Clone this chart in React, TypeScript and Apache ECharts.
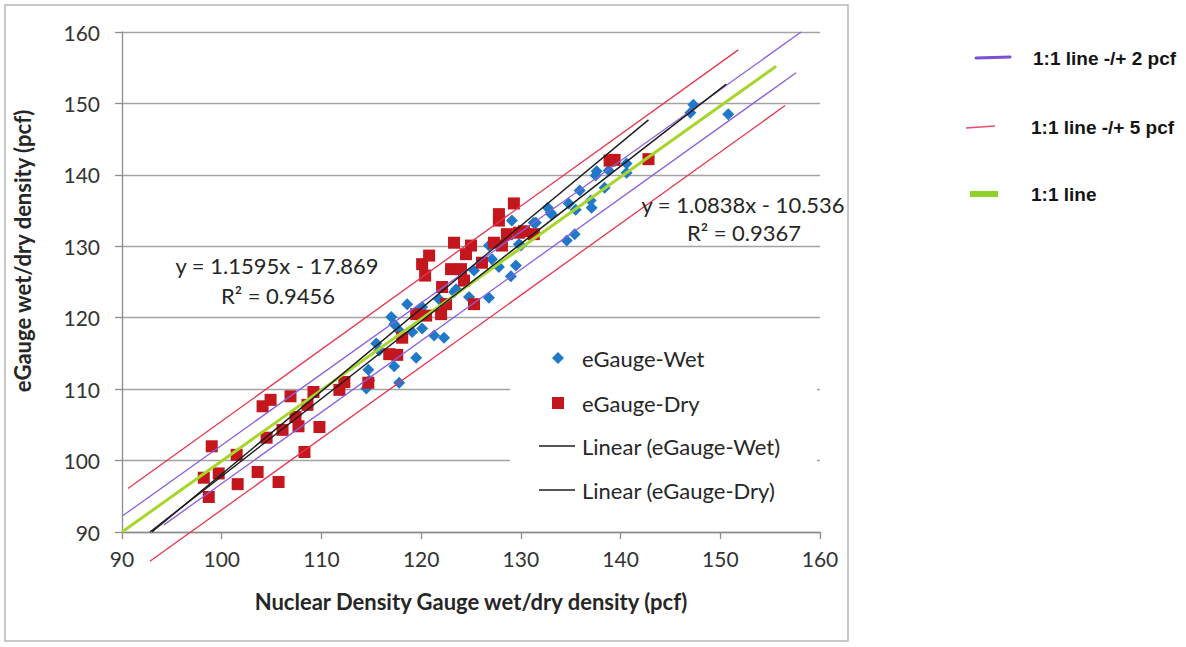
import React, { useEffect, useRef } from "react";
import * as echarts from "echarts";

// ---------- data ----------
const X_MIN = 90;
const X_MAX = 160;
const Y_MIN = 90;
const Y_MAX = 160;
const TICK_STEP = 10;

// eGauge wet density vs nuclear gauge wet density (pcf)
const WET: [number, number][] = [
  [114.5, 110.1], [114.8, 111.2], [114.7, 112.7], [115.5, 116.4], [115.8, 115.4],
  [117.3, 113.2], [117.8, 110.9], [117.0, 120.1], [117.3, 119.1], [117.8, 118.2],
  [118.6, 121.9], [119.5, 114.4], [119.1, 118.0], [120.1, 118.5], [121.3, 117.5],
  [122.3, 117.2], [119.8, 121.2], [123.3, 123.6], [120.1, 121.5], [121.8, 122.6],
  [123.5, 124.0], [124.8, 122.9], [126.8, 122.8], [125.3, 126.6], [127.1, 128.2],
  [127.8, 127.1], [129.5, 127.3], [129.0, 125.8], [126.8, 130.1], [129.8, 130.3],
  [129.1, 133.6], [131.3, 133.3], [133.0, 134.7], [132.7, 135.4], [133.1, 134.4],
  [131.5, 133.3], [130.0, 130.1], [134.6, 130.8], [135.4, 131.7], [134.8, 136.0],
  [135.5, 135.1], [137.1, 135.4], [137.0, 136.4], [135.9, 137.8], [138.4, 138.2],
  [137.5, 139.9], [137.6, 140.5], [138.8, 140.6], [140.6, 140.3], [140.6, 141.6],
  [147.0, 148.7], [147.3, 149.8], [150.8, 148.5],
];

// eGauge dry density vs nuclear gauge dry density (pcf)
const DRY: [number, number][] = [
  [99.0, 102.0], [98.2, 97.6], [98.7, 94.9], [99.7, 98.2], [101.5, 100.8],
  [101.6, 96.7], [103.6, 98.4], [105.7, 97.0], [104.5, 103.2], [104.1, 107.6],
  [104.9, 108.5], [106.1, 104.3], [106.9, 109.0], [107.4, 106.1], [107.7, 104.8],
  [108.3, 101.2], [108.6, 107.8], [109.2, 109.6], [109.8, 104.7], [111.8, 109.9],
  [112.3, 111.0], [114.7, 110.9], [116.8, 114.9], [117.6, 114.8], [118.1, 117.2],
  [119.5, 120.5], [120.5, 120.3], [122.0, 120.5], [122.5, 121.9], [122.1, 124.3],
  [120.4, 125.9], [120.1, 127.5], [120.8, 128.7], [123.3, 130.5], [125.0, 130.1],
  [124.5, 128.9], [126.1, 127.7], [123.0, 126.8], [124.0, 126.8], [124.3, 125.2],
  [125.3, 121.9], [127.3, 130.5], [128.6, 131.7], [129.8, 131.9], [131.3, 131.7],
  [127.8, 134.5], [127.8, 133.6], [129.3, 136.0], [128.1, 130.1], [130.3, 132.1],
  [138.9, 142.0], [139.4, 142.1], [142.8, 142.2],
];

// trend lines (end points as drawn)
const WET_TREND: [number, number][] = [[92.8, 90.0], [150.6, 152.7]];
const DRY_TREND: [number, number][] = [[93.0, 90.0], [142.8, 147.7]];

// hand-drawn reference lines (end points as drawn)
const ONE_TO_ONE: [number, number][] = [[90.0, 90.0], [155.6, 155.2]];
const PLUS_2: [number, number][] = [[90.1, 92.3], [158.1, 160.0]];
const MINUS_2: [number, number][] = [[94.2, 91.0], [157.6, 154.3]];
const PLUS_5: [number, number][] = [[90.6, 96.1], [151.8, 157.5]];
const MINUS_5: [number, number][] = [[92.8, 85.9], [156.5, 149.7]];

const WET_EQ = ["y = 1.0838x - 10.536", "R² = 0.9367"];
const DRY_EQ = ["y = 1.1595x - 17.869", "R² = 0.9456"];

const NAME_WET = "eGauge-Wet";
const NAME_DRY = "eGauge-Dry";
const NAME_WET_FIT = "Linear (eGauge-Wet)";
const NAME_DRY_FIT = "Linear (eGauge-Dry)";
const NAME_11 = "1:1 line";
const NAME_2 = "1:1 line -/+ 2 pcf";
const NAME_5 = "1:1 line -/+ 5 pcf";

const X_TITLE = "Nuclear Density Gauge wet/dry density (pcf)";
const Y_TITLE = "eGauge wet/dry density (pcf)";

// ---------- styles ----------
const FONT = "Lato, 'Open Sans', sans-serif";
const ARIAL = "'Liberation Sans', Arial, sans-serif";
const BLUE = "#1f78c8";
const RED = "#c3161d";
const PURPLE = "#8a5fe0";
const PINK = "#e8354f";
const GREEN = "#a6d62c";
const BLACK = "#1c1c1c";
const TXT = "#262626";

export default function App() {
  const ref = useRef<HTMLDivElement>(null);

  useEffect(() => {
    if (!ref.current) return;
    const chart = echarts.init(ref.current, undefined, { renderer: "svg" });

    const refLine = (name: string, data: [number, number][], color: string, width: number, z = 3) => ({
      name,
      type: "line",
      data,
      symbol: "none",
      clip: false,
      lineStyle: { color, width },
      itemStyle: { color },
      z,
      silent: true,
    });

    const option: any = {
      animation: false,
      backgroundColor: "#ffffff",
      grid: { left: 122, right: 366, top: 32, bottom: 115, containLabel: false },
      xAxis: {
        type: "value",
        min: X_MIN,
        max: X_MAX,
        interval: TICK_STEP,
        name: X_TITLE,
        nameLocation: "middle",
        nameGap: 58,
        nameTextStyle: { fontFamily: FONT, fontSize: 22, fontWeight: "bold", color: TXT },
        axisLine: { show: true, lineStyle: { color: "#8c8c8c", width: 1.3 } },
        axisTick: { show: true, length: 7, lineStyle: { color: "#8c8c8c", width: 1.3 } },
        axisLabel: { fontFamily: FONT, fontSize: 21, color: "#333", margin: 16 },
        splitLine: { show: false },
      },
      yAxis: {
        type: "value",
        min: Y_MIN,
        max: Y_MAX,
        interval: TICK_STEP,
        axisLine: { show: true, lineStyle: { color: "#8c8c8c", width: 1.3 } },
        axisTick: { show: true, length: 7, lineStyle: { color: "#8c8c8c", width: 1.3 } },
        axisLabel: { fontFamily: FONT, fontSize: 21, color: "#333", margin: 22 },
        splitLine: { show: true, lineStyle: { color: "#a3a3a3", width: 1.4 } },
      },
      legend: [
        {
          data: [
            { name: NAME_WET, icon: "diamond" },
            { name: NAME_DRY, icon: "rect" },
          ],
          orient: "vertical",
          left: 552,
          top: 347,
          padding: 0,
          itemWidth: 12,
          itemHeight: 12,
          itemGap: 23,
          selectedMode: false,
          textStyle: { fontFamily: FONT, fontSize: 22, color: TXT, lineHeight: 20, padding: [0, 0, 0, 13] },
        },
        {
          data: [
            { name: NAME_WET_FIT, icon: "rect" },
            { name: NAME_DRY_FIT, icon: "rect" },
          ],
          orient: "vertical",
          left: 539,
          top: 435,
          padding: 0,
          itemWidth: 36,
          itemHeight: 1.6,
          itemGap: 22,
          selectedMode: false,
          itemStyle: { color: BLACK },
          textStyle: { fontFamily: FONT, fontSize: 22, color: TXT, lineHeight: 20, padding: [0, 0, 0, 2] },
        },
      ],
      graphic: [
        {
          type: "rect",
          shape: { x: 5, y: 5, width: 843, height: 636 },
          style: { fill: "none", stroke: "#b8b8b8", lineWidth: 1.5 },
          z: -1,
          silent: true,
        },
        {
          type: "rect",
          shape: { x: 510, y: 332, width: 307, height: 190 },
          style: { fill: "#ffffff" },
          z: 1,
          silent: true,
        },
        {
          type: "text",
          x: 22,
          y: 251,
          rotation: Math.PI / 2,
          style: {
            text: Y_TITLE,
            font: `bold 22px ${FONT}`,
            fill: TXT,
            align: "center",
            verticalAlign: "middle",
          },
        },
        {
          type: "text",
          x: 277,
          y: 265,
          style: { text: DRY_EQ[0], font: `22px ${FONT}`, fill: TXT, align: "center", verticalAlign: "middle" },
          z: 5,
        },
        {
          type: "text",
          x: 278,
          y: 295,
          style: { text: DRY_EQ[1], font: `22px ${FONT}`, fill: TXT, align: "center", verticalAlign: "middle" },
          z: 5,
        },
        {
          type: "text",
          x: 743,
          y: 204,
          style: { text: WET_EQ[0], font: `22px ${FONT}`, fill: TXT, align: "center", verticalAlign: "middle" },
          z: 5,
        },
        {
          type: "text",
          x: 744,
          y: 232,
          style: { text: WET_EQ[1], font: `22px ${FONT}`, fill: TXT, align: "center", verticalAlign: "middle" },
          z: 5,
        },
        // right-hand legend for the hand-drawn lines
        {
          type: "line",
          shape: { x1: 976, y1: 58, x2: 1010, y2: 57 },
          style: { stroke: "#7b50d4", lineWidth: 3, lineCap: "round" },
        },
        {
          type: "text",
          x: 1033,
          y: 58,
          style: { text: NAME_2, font: `bold 19px ${ARIAL}`, fill: "#141414", verticalAlign: "middle" },
        },
        {
          type: "line",
          shape: { x1: 966, y1: 128, x2: 995, y2: 126 },
          style: { stroke: "#e0506a", lineWidth: 1.5 },
        },
        {
          type: "text",
          x: 1031,
          y: 127,
          style: { text: NAME_5, font: `bold 19px ${ARIAL}`, fill: "#141414", verticalAlign: "middle" },
        },
        {
          type: "line",
          shape: { x1: 970, y1: 194, x2: 998, y2: 194 },
          style: { stroke: "#8fd12a", lineWidth: 6 },
        },
        {
          type: "text",
          x: 1031,
          y: 194,
          style: { text: NAME_11, font: `bold 19px ${ARIAL}`, fill: "#141414", verticalAlign: "middle" },
        },
      ],
      series: [
        {
          name: NAME_WET,
          type: "scatter",
          data: WET,
          symbol: "diamond",
          symbolSize: 12,
          itemStyle: { color: BLUE, opacity: 1 },
          z: 2,
        },
        {
          name: NAME_DRY,
          type: "scatter",
          data: DRY,
          symbol: "rect",
          symbolSize: 12,
          itemStyle: { color: RED, opacity: 1 },
          z: 2,
        },
        refLine(NAME_11, ONE_TO_ONE, GREEN, 3),
        refLine(NAME_2, PLUS_2, PURPLE, 1.3),
        refLine(NAME_2, MINUS_2, PURPLE, 1.3),
        refLine(NAME_5, PLUS_5, PINK, 1.3),
        refLine(NAME_5, MINUS_5, PINK, 1.3),
        refLine(NAME_WET_FIT, WET_TREND, BLACK, 1.4, 4),
        refLine(NAME_DRY_FIT, DRY_TREND, BLACK, 1.4, 4),
      ],
    };

    chart.setOption(option);
    return () => chart.dispose();
  }, []);

  return (
    <div
      ref={ref}
      style={{ position: "fixed", left: 0, top: 0, width: 1186, height: 647, background: "#fff" }}
    />
  );
}
